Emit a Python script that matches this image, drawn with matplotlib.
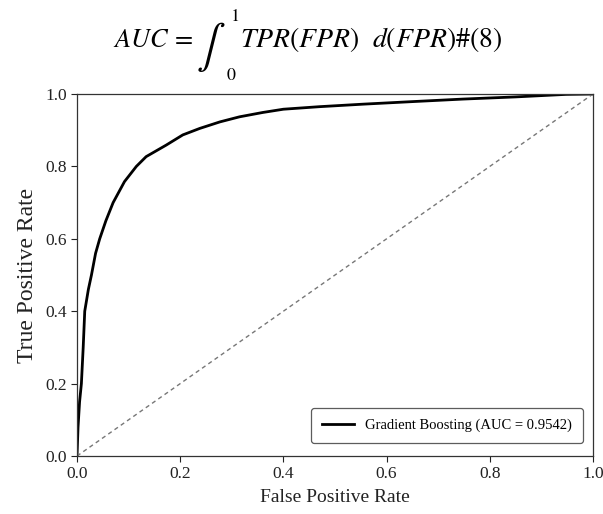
import matplotlib
matplotlib.use("Agg")
import matplotlib.pyplot as plt
import numpy as np

# ROC curve
fpr = [0.0, 0.002, 0.005, 0.0085, 0.012, 0.015, 0.022, 0.028, 0.036, 0.044,
       0.056, 0.070, 0.092, 0.115, 0.134, 0.173, 0.205, 0.238, 0.277, 0.315,
       0.36, 0.40, 0.47, 0.555, 0.65, 0.748, 0.85, 0.948, 1.0]
tpr = [0.0, 0.08, 0.15, 0.20, 0.30, 0.40, 0.46, 0.50, 0.56, 0.60,
       0.65, 0.70, 0.758, 0.80, 0.827, 0.859, 0.887, 0.905, 0.923, 0.937,
       0.949, 0.958, 0.965, 0.972, 0.979, 0.986, 0.992, 0.999, 1.0]
chance = [0.0, 1.0]
auc_label = "Gradient Boosting (AUC = 0.9542)"
ticks = [0.0, 0.2, 0.4, 0.6, 0.8, 1.0]

plt.rcParams['font.family'] = 'Liberation Serif'
plt.rcParams['mathtext.fontset'] = 'stix'

W, H = 603, 514
fig = plt.figure(figsize=(W / 100, H / 100), dpi=100)
ax = fig.add_axes([0.1277, 0.1128, 0.8557, 0.7043])

ax.plot(fpr, tpr, color="black", lw=2.0, label=auc_label)
ax.plot(chance, chance, color="#777777", lw=1.0, ls=(0, (3, 2.5)))

ax.set_xlim(0, 1)
ax.set_ylim(0, 1)
ax.set_xticks(ticks)
ax.set_yticks(ticks)
ax.tick_params(labelsize=12.5, colors="#222222", length=4, width=0.8)
for s in ax.spines.values():
    s.set_color("#333333")
    s.set_linewidth(0.9)

ax.set_xlabel("False Positive Rate", fontsize=14, color="#222222", labelpad=5)
ax.set_ylabel("True Positive Rate", fontsize=17, color="#222222", labelpad=5)

leg = ax.legend(loc="lower right", fontsize=10.5, frameon=True, fancybox=True,
                edgecolor="#333333", handlelength=2.2, borderpad=0.75,
                borderaxespad=0, bbox_to_anchor=(0.981, 0.036))
leg.get_frame().set_linewidth(0.9)


def px(x, y):
    # pixel position from the top-left corner -> figure fraction
    return x / W, 1 - y / H


# equation line above the chart, built from pieces
base = 47
fig.text(*px(113, base), r"$AUC\,=$", fontsize=19, va="baseline")
fig.text(*px(196, base + 11), r"$\int$", fontsize=31, va="baseline")
fig.text(*px(230, 21), r"$1$", fontsize=13, va="baseline")
fig.text(*px(226, 80), r"$0$", fontsize=13, va="baseline")
fig.text(*px(240, base), r"$TPR(FPR)\ \ d(FPR)\#(8)$", fontsize=20, va="baseline")

fig.savefig("out.png", dpi=100)
